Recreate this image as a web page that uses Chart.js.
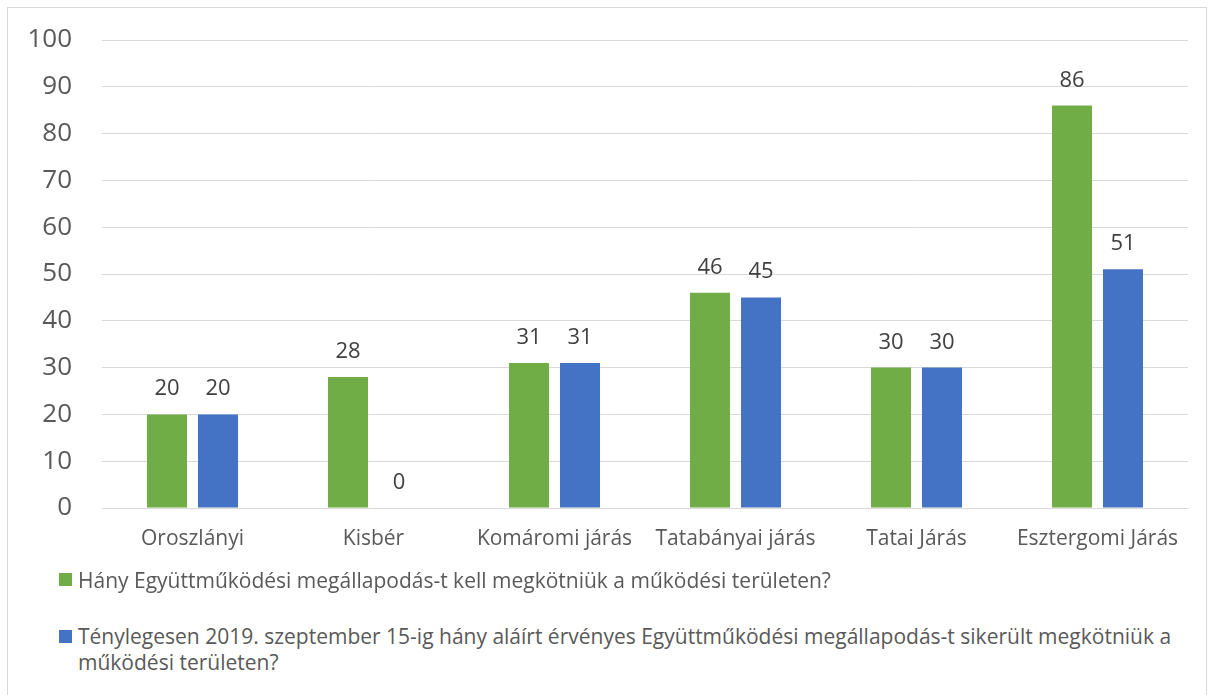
<!DOCTYPE html>
<html>
<head>
<meta charset="utf-8">
<script src="https://cdn.jsdelivr.net/npm/chart.js@4"></script>
<style>
  html, body { margin: 0; padding: 0; background: #fff; }
  body { width: 1216px; height: 695px; position: relative; overflow: hidden;
         font-family: 'Open Sans', sans-serif; }
  #frame { position: absolute; left: 7px; top: 7px; width: 1200px; height: 700px;
           border: 1px solid #d9d9d9; box-sizing: border-box; }
  #chart { position: absolute; left: 8px; top: 8px; }
  .legend { position: absolute; left: 0; width: 1216px; color: #595959; font-size: 21px; line-height: 26px; }
  .legend .sw { position: absolute; width: 13px; height: 13px; }
  .legend .tx { position: absolute; left: 78px; width: 1105px; }
</style>
</head>
<body>
<div id="frame"></div>
<canvas id="chart" width="1200" height="560"></canvas>
<div id="legend"></div>
<script>
// Districts and agreement counts
const categories = ['Oroszlányi', 'Kisbér', 'Komáromi járás', 'Tatabányai járás', 'Tatai Járás', 'Esztergomi Járás'];
const requiredAgreements = [20, 28, 31, 46, 30, 86];
const signedAgreements = [20, 0, 31, 45, 30, 51];
const yTicks = [0, 10, 20, 30, 40, 50, 60, 70, 80, 90, 100];
const seriesNames = [
  'Hány Együttműködési megállapodás-t kell megkötniük a működési területen?',
  'Ténylegesen 2019. szeptember 15-ig hány aláírt érvényes Együttműködési megállapodás-t sikerült megkötniük a működési területen?'
];
const seriesColors = ['#70ad47', '#4472c4'];

const FONT = "'Open Sans', sans-serif";

// Value labels above each bar
const valueLabels = {
  id: 'valueLabels',
  afterDatasetsDraw(chart) {
    const ctx = chart.ctx;
    ctx.save();
    ctx.font = '22px ' + FONT;
    ctx.fillStyle = '#404040';
    ctx.textAlign = 'center';
    ctx.textBaseline = 'alphabetic';
    chart.data.datasets.forEach((ds, i) => {
      chart.getDatasetMeta(i).data.forEach((bar, j) => {
        ctx.fillText(String(ds.data[j]), bar.x, bar.y - 19);
      });
    });
    ctx.restore();
  }
};

new Chart(document.getElementById('chart'), {
  type: 'bar',
  data: {
    labels: categories,
    datasets: [
      { label: seriesNames[0], data: requiredAgreements, backgroundColor: seriesColors[0] },
      { label: seriesNames[1], data: signedAgreements, backgroundColor: seriesColors[1] }
    ]
  },
  options: {
    responsive: false,
    animation: false,
    devicePixelRatio: 1,
    layout: { padding: { top: 32, right: 20, bottom: 0, left: 0 } },
    datasets: { bar: { categoryPercentage: 0.5635, barPercentage: 0.784 } },
    plugins: { legend: { display: false }, tooltip: { enabled: false } },
    scales: {
      x: {
        grid: { display: false, drawTicks: false },
        border: { color: '#d9d9d9', width: 1 },
        ticks: { color: '#595959', font: { family: FONT, size: 21 }, padding: 18, maxRotation: 0, autoSkip: false },
        afterFit(s) { s.height = 60; s.paddingLeft = 0; s.paddingRight = 0; }
      },
      y: {
        min: 0, max: 100,
        afterBuildTicks(s) { s.ticks = yTicks.map(v => ({ value: v })); },
        grid: { color: '#d9d9d9', lineWidth: 1, drawTicks: false },
        border: { display: false },
        ticks: { color: '#595959', font: { family: FONT, size: 26 }, padding: 30 },
        afterFit(s) { s.width = 94; s.paddingTop = 0; s.paddingBottom = 0; }
      }
    }
  },
  plugins: [valueLabels]
});

// Legend below the chart, wrapping long series names
const legend = document.getElementById('legend');
const rows = [{ top: 567, sw: 573 }, { top: 623, sw: 630 }];
seriesNames.forEach((name, i) => {
  const row = document.createElement('div');
  row.className = 'legend';
  row.style.top = rows[i].top + 'px';
  const sw = document.createElement('div');
  sw.className = 'sw';
  sw.style.left = '59px';
  sw.style.top = (rows[i].sw - rows[i].top) + 'px';
  sw.style.background = seriesColors[i];
  const tx = document.createElement('div');
  tx.className = 'tx';
  tx.textContent = name;
  row.appendChild(sw);
  row.appendChild(tx);
  legend.appendChild(row);
});
</script>
</body>
</html>
